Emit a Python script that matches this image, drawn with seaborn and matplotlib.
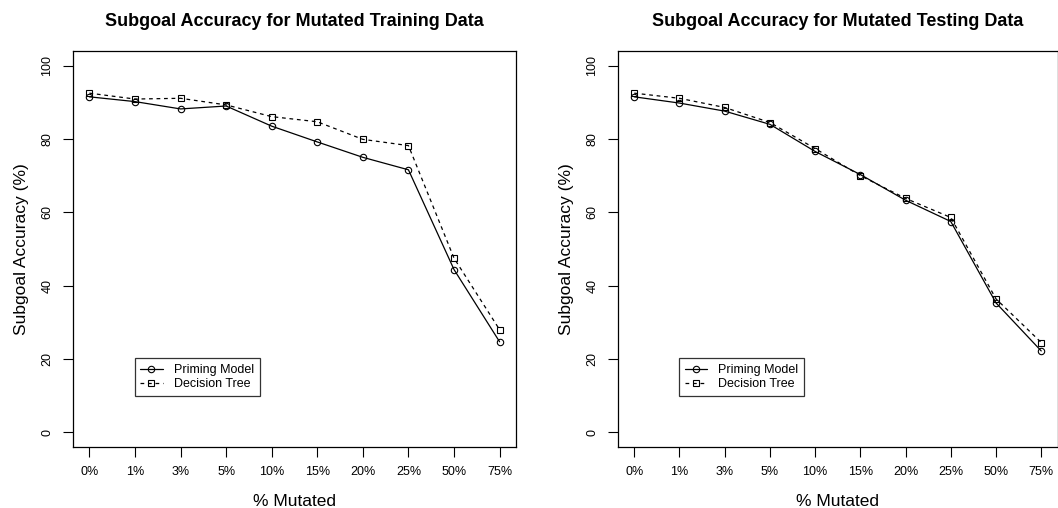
import matplotlib

matplotlib.use("Agg")
import matplotlib.pyplot as plt  # noqa: E402
import pandas as pd  # noqa: E402
import seaborn as sns  # noqa: E402

sns.set_style("ticks")
plt.rcParams["font.family"] = ["Liberation Sans", "DejaVu Sans"]
plt.rcParams.update({"text.color": "black", "axes.labelcolor": "black",
                     "xtick.color": "black", "ytick.color": "black"})

mutated = ["0%", "1%", "3%", "5%", "10%", "15%", "20%", "25%", "50%", "75%"]

train_priming = [91.5, 90.2, 88.2, 89.0, 83.5, 79.2, 75.0, 71.6, 44.4, 24.7]
train_tree = [92.5, 90.9, 91.1, 89.3, 86.1, 84.7, 79.9, 78.2, 47.5, 28.0]
test_priming = [91.5, 89.8, 87.6, 84.0, 76.6, 70.3, 63.3, 57.5, 35.3, 22.2]
test_tree = [92.5, 91.1, 88.6, 84.5, 77.4, 70.0, 63.8, 58.6, 36.4, 24.5]

titles = ["Subgoal Accuracy for Mutated Training Data",
          "Subgoal Accuracy for Mutated Testing Data"]

W, H = 1058, 508
fig = plt.figure(figsize=(W / 100, H / 100), dpi=100)
boxes = [(73, 516), (618, 1057.5)]
top, bottom = 51, 447

panels = [(train_priming, train_tree), (test_priming, test_tree)]
for (x0, x1), (prim, tree), title in zip(boxes, panels, titles):
    ax = fig.add_axes([x0 / W, 1 - bottom / H, (x1 - x0) / W, (bottom - top) / H])
    df = pd.DataFrame({"pos": range(len(mutated)), "prim": prim, "tree": tree})
    sns.lineplot(data=df, x="pos", y="prim", ax=ax, color="black", lw=0.9,
                 marker="o", ms=4.6, mfc="none", mec="black", mew=0.8,
                 linestyle="-", label="Priming Model")
    sns.lineplot(data=df, x="pos", y="tree", ax=ax, color="black", lw=0.9,
                 marker="s", ms=4.0, mfc="none", mec="black", mew=0.8,
                 linestyle=(0, (3, 3)), label="Decision Tree")

    ax.set_xlim(-0.36, len(mutated) - 1 + 0.36)
    ax.set_ylim(-4, 104)
    ax.set_xticks(range(len(mutated)))
    ax.set_xticklabels(mutated, fontsize=9)
    ax.set_yticks([0, 20, 40, 60, 80, 100])
    ax.set_yticklabels(["0", "20", "40", "60", "80", "100"], fontsize=9,
                       rotation=90, va="center")
    ax.tick_params(direction="out", length=7, width=0.8, color="black", pad=7)
    for s in ax.spines.values():
        s.set_color("black")
        s.set_linewidth(0.9)
    ax.set_xlabel("% Mutated", fontsize=12.5, labelpad=11)
    ax.set_ylabel("Subgoal Accuracy (%)", fontsize=12.5, labelpad=9)
    ax.set_title(title, fontsize=13, fontweight="bold", pad=18)

    leg = ax.legend(loc="upper left", bbox_to_anchor=(0.99, 20.2),
                    bbox_transform=ax.transData, borderaxespad=0,
                    fontsize=9, frameon=True, fancybox=False,
                    handlelength=1.8, handletextpad=0.9, borderpad=0.45,
                    labelspacing=0.2, numpoints=1)
    leg.get_frame().set_edgecolor("black")
    leg.get_frame().set_linewidth(0.9)

fig.savefig("out.png", dpi=100)
